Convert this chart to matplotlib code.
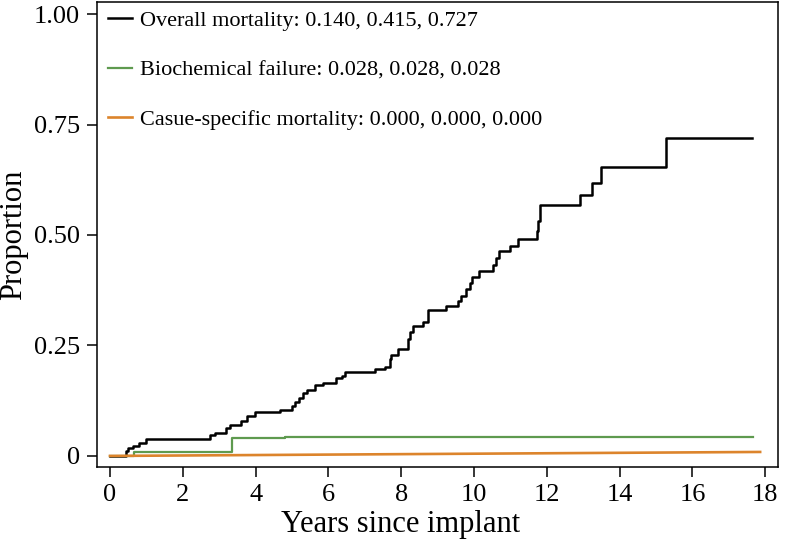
import matplotlib.pyplot as plt

# cumulative incidence curves
t_overall = [0, 0.44, 0.50, 0.64, 0.80, 0.99, 2.75, 2.89, 3.20, 3.30, 3.61, 3.75,
             3.98, 4.67, 4.99, 5.08, 5.20, 5.31, 5.40, 5.63, 5.85, 6.22, 6.36, 6.45,
             7.27, 7.55, 7.68, 7.73, 7.91, 8.19, 8.23, 8.32, 8.60, 8.74, 9.24, 9.56,
             9.65, 9.79, 9.88, 9.95, 10.13, 10.52, 10.61, 10.68, 10.99, 11.21, 11.73,
             11.77, 11.82, 12.90, 13.25, 13.48, 15.28, 17.65]
p_overall = [0, 0.012, 0.017, 0.023, 0.029, 0.038, 0.048, 0.053, 0.063, 0.070, 0.078,
             0.090, 0.099, 0.104, 0.112, 0.121, 0.131, 0.142, 0.149, 0.160, 0.166,
             0.176, 0.181, 0.189, 0.196, 0.202, 0.219, 0.228, 0.242, 0.264, 0.281,
             0.294, 0.303, 0.330, 0.339, 0.351, 0.363, 0.377, 0.392, 0.405, 0.418,
             0.433, 0.449, 0.463, 0.476, 0.492, 0.509, 0.531, 0.569, 0.591, 0.617,
             0.654, 0.720, 0.720]

t_bcf = [0, 0.67, 3.36, 4.80, 17.66]
p_bcf = [0, 0.010, 0.040, 0.042, 0.042]

t_csm = [0, 17.86]
p_csm = [0.0, 0.009]

labels = ['Overall mortality: 0.140, 0.415, 0.727',
          'Biochemical failure: 0.028, 0.028, 0.028',
          'Casue-specific mortality: 0.000, 0.000, 0.000']
xticks = list(range(0, 19, 2))
yticks = [0, 0.25, 0.5, 0.75, 1.0]
ytick_labels = ['0', '0.25', '0.50', '0.75', '1.00']

plt.rcParams['font.family'] = ['Liberation Serif', 'DejaVu Serif']

fig = plt.figure(figsize=(7.87, 5.47), dpi=100)
ax = fig.add_axes([0.1229, 0.1463, 0.989 - 0.1229, 0.9969 - 0.1463])

ax.step(t_overall, p_overall, where='post', color='black', lw=1.8, label=labels[0])
ax.step(t_bcf, p_bcf, where='post', color='#5e9a4f', lw=1.6, label=labels[1])
ax.plot(t_csm, p_csm, color='#dc842c', lw=1.9, label=labels[2])

ax.set_xlim(-0.365, 18.36)
ax.set_ylim(-0.025, 1.028)
ax.set_xticks(xticks)
ax.set_yticks(yticks)
ax.set_yticklabels(ytick_labels)
ax.tick_params(labelsize=19, length=7, width=1.1, direction='out', pad=5)
for s in ax.spines.values():
    s.set_linewidth(1.1)

# x title sits a bit left of the axes centre in the original
ax.set_xlabel('Years since implant', fontsize=22, labelpad=3, x=0.446)
ax.set_ylabel('Proportion', fontsize=22, labelpad=4)

ax.legend(loc='upper left', frameon=False, fontsize=16, handlelength=1.1,
          handletextpad=0.35, labelspacing=1.3, borderaxespad=0.0,
          bbox_to_anchor=(0.003, 1.0))

fig.savefig('out.png', dpi=100)
